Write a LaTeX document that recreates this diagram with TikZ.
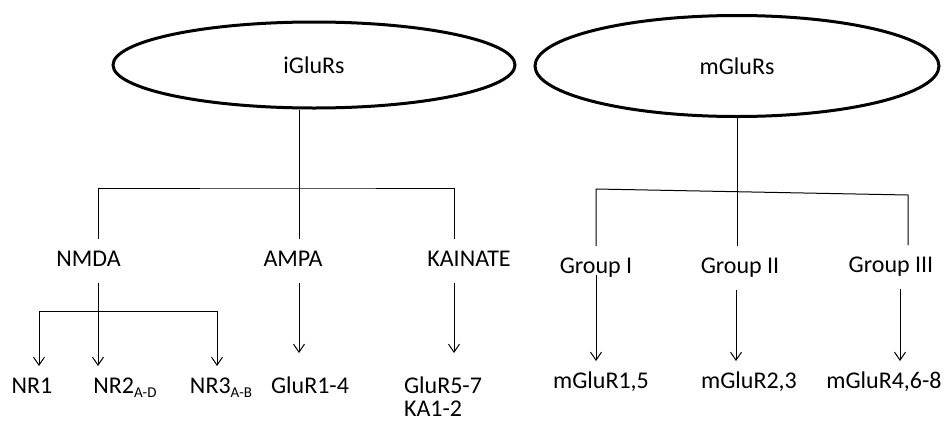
\documentclass[tikz,border=0pt]{standalone}
\usepackage{fontspec}
\setmainfont{Carlito}
\usepackage{tikz}
\usetikzlibrary{arrows.meta}
\usetikzlibrary{shapes.geometric}

\newcommand{\lowsub}[1]{\raisebox{-4pt}{\fontsize{15}{15}\selectfont #1}}

\begin{document}
\begin{tikzpicture}[x=1pt,y=-1pt,
				family node/.style={ellipse,draw,line width=3pt,inner sep=0pt,
					font=\fontsize{24}{28}\selectfont},
				class node/.style={anchor=base,inner sep=0pt,outer sep=12pt,
					text height=15pt,text depth=5pt,font=\fontsize{24}{28}\selectfont},
				link/.style={line width=1pt},
				sub arrow/.style={link,-{Straight Barb[length=8pt,width=11pt]}}]
				
				\useasboundingbox (0,0) rectangle (944,421);
				
				% receptor families
				\node[family node,minimum width=402pt,minimum height=86pt] (iglu) at (314,65) {iGluRs};
				\node[family node,minimum width=404pt,minimum height=101pt] (mglu) at (737,66) {mGluRs};
				
				% ionotropic
				\node[class node] (nmda) at (88.5,266) {NMDA};
				\node[class node] (ampa) at (293,266) {AMPA};
				\node[class node] (kain) at (469,266) {KAINATE};
				\node[class node] (nr1) at (32,393) {NR1};
				\node[class node] (nr2) at (125,393) {NR2\lowsub{A-D}};
				\node[class node] (nr3) at (221,393) {NR3\lowsub{A-B}};
				\node[class node] (glu14) at (310,393) {GluR1-4};
				\node[class node] (glu57) at (443,393) {GluR5-7};
				\node[class node,anchor=base west] (ka12) at ([yshift=-23pt]glu57.base west) {KA1-2};
				
				% metabotropic
				\node[class node] (g1) at (596,273) {Group I};
				\node[class node] (g2) at (740,273) {Group II};
				\node[class node] (g3) at (891,272) {Group III};
				\node[class node] (m15) at (601,388) {mGluR1,5};
				\node[class node] (m23) at (749,388) {mGluR2,3};
				\node[class node] (m468) at (884,388) {mGluR4,6-8};
				
				\coordinate (ibar) at (299,188);
				\coordinate (ibar end) at (454,188);
				\coordinate (nsplit) at (98,311);
				\coordinate (mleft) at (596,189);
				\coordinate (mright) at (908,195);
				
				\draw[link] (iglu.south -| ibar) -- (ibar |- ampa.north);
				\draw[link] (nsplit |- nmda.north) |- (ibar) -- (ibar end) -- (ibar end |- kain.north);
				\draw[sub arrow] (nsplit |- nmda.south) -- (nsplit |- nr2.north);
				\draw[sub arrow] (nsplit) -| ([xshift=7pt]nr1.north);
				\draw[sub arrow] (nsplit) -| ([xshift=-4pt]nr3.north);
				\draw[sub arrow,shorten >=13pt] (ibar |- ampa.south) -- (ibar |- glu14.north);
				\draw[sub arrow,shorten >=13pt] (ibar end |- kain.south) -- (ibar end |- glu57.north);
				
				\draw[link] (mglu.south) -- (mglu.south |- g2.north);
				\draw[link] (g1.north) -- (mleft) -- (mright) -- (mright |- g3.north);
				\draw[sub arrow,shorten <=-15pt] (g1.south) -- (g1.south |- m15.north);
				\draw[sub arrow] ([xshift=-4pt]g2.south) -- ([xshift=-13pt]m23.north);
				\draw[sub arrow] ([xshift=9pt]g3.south) -- ([xshift=16pt]m468.north);
			\end{tikzpicture}
\end{document}
